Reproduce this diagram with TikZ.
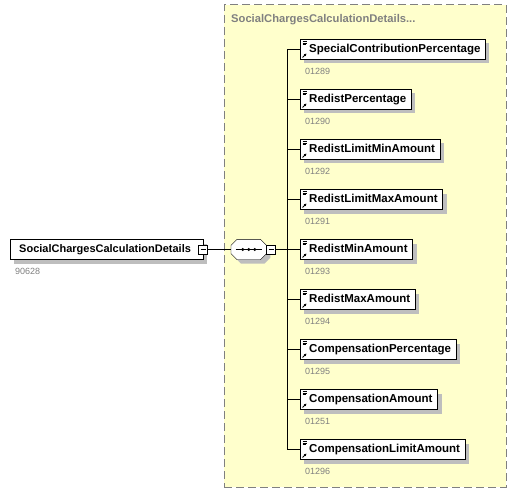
\documentclass[tikz,border=0pt]{standalone}
\usepackage{fontspec}
\setmainfont{Liberation Sans}
\usetikzlibrary{arrows.meta}
\definecolor{groupfill}{RGB}{255,255,204}
\definecolor{groupline}{RGB}{128,128,128}
\definecolor{shadowgray}{RGB}{190,190,190}
\definecolor{numgray}{RGB}{128,128,128}
\tikzstyle{boxshadow}=[preaction={fill=shadowgray,transform canvas={shift={(4pt,-4pt)}}}]
\tikzstyle{element}=[draw=black,fill=white,boxshadow,anchor=west,minimum height=20pt,inner xsep=5pt,inner ysep=0pt,text height=8pt,text depth=2.5pt,font=\fontsize{11.5}{13}\selectfont\bfseries,execute at begin node={\hspace*{4pt}}]
\tikzstyle{refnum}=[anchor=west,inner sep=0pt,text=numgray,font=\fontsize{9}{10}\selectfont]
\tikzstyle{collapse}=[draw=black,fill=white,minimum size=9pt,inner sep=0pt,path picture={\draw ([xshift=-2.5pt]path picture bounding box.center) -- ([xshift=2.5pt]path picture bounding box.center);}]
\newcommand{\refmark}[1]{%
  \draw[line width=0.6pt,shift={(#1.north west)}] (2.5,2) -- (7,2) (2.5,3.7) -- (7,3.7) (2.5,5.4) -- (6,5.4);
  \draw[-{Latex[length=2.5pt,width=2.8pt]},line width=0.9pt,shift={(#1.south west)}] (2.5,-2.2) -- (6.5,-6.2);}

\begin{document}
\begin{tikzpicture}[x=1pt,y=-1pt]
    \useasboundingbox (0,0) rectangle (526,494);

    \node (Group) at (365,246) [draw=groupline,fill=groupfill,line width=1pt,dash pattern=on 8pt off 4pt,minimum width=282pt,minimum height=482pt] {};
    \node (GroupTitle) at (231,20) [anchor=west,inner sep=0pt,text=numgray,font=\fontsize{11.2}{13}\selectfont\bfseries] {SocialChargesCalculationDetails...};

    \node (Root) at (10,249.5) [element,font=\fontsize{11}{13}\selectfont\bfseries,execute at end node={\hspace*{7pt}}] {SocialChargesCalculationDetails};
    \node (RootNum) at (15,271.5) [refnum] {90628};
    \node (RootM) at (Root.east) [collapse] {};

    % sequence compositor
    \node (Seq) at (231,249.5) [anchor=west,minimum width=35pt,minimum height=20pt,inner sep=0pt] {};
    \draw[fill=white,boxshadow] ([xshift=6pt]Seq.north west) -- ([xshift=-6pt]Seq.north east) -- ([yshift=-6pt]Seq.north east) -- ([yshift=6pt]Seq.south east) -- ([xshift=-6pt]Seq.south east) -- ([xshift=6pt]Seq.south west) -- ([yshift=6pt]Seq.south west) -- ([yshift=-6pt]Seq.north west) -- cycle;
    \draw[line width=0.8pt] ([xshift=-13pt]Seq.center) -- ([xshift=13pt]Seq.center);
    \fill ([xshift=-6pt]Seq.center) circle (1.6pt);
    \fill (Seq.center) circle (1.6pt);
    \fill ([xshift=6pt]Seq.center) circle (1.6pt);
    \node (SeqM) at (Seq.east) [collapse,anchor=west] {};
    \coordinate (Bus) at (287,249.5);

    \node (SCP) at (300,49.5) [element] {SpecialContributionPercentage};
    \node (RP) at (300,99.5) [element] {RedistPercentage};
    \node (RLMin) at (300,149.5) [element] {RedistLimitMinAmount};
    \node (RLMax) at (300,199.5) [element] {RedistLimitMaxAmount};
    \node (RMin) at (300,249.5) [element] {RedistMinAmount};
    \node (RMax) at (300,299.5) [element] {RedistMaxAmount};
    \node (CP) at (300,349.5) [element] {CompensationPercentage};
    \node (CA) at (300,399.5) [element] {CompensationAmount};
    \node (CLA) at (300,449.5) [element] {CompensationLimitAmount};

    \node (SCPNum) at (305,71.5) [refnum] {01289};
    \node (RPNum) at (305,121.5) [refnum] {01290};
    \node (RLMinNum) at (305,171.5) [refnum] {01292};
    \node (RLMaxNum) at (305,221.5) [refnum] {01291};
    \node (RMinNum) at (305,271.5) [refnum] {01293};
    \node (RMaxNum) at (305,321.5) [refnum] {01294};
    \node (CPNum) at (305,371.5) [refnum] {01295};
    \node (CANum) at (305,421.5) [refnum] {01251};
    \node (CLANum) at (305,471.5) [refnum] {01296};

    \refmark{SCP}
    \refmark{RP}
    \refmark{RLMin}
    \refmark{RLMax}
    \refmark{RMin}
    \refmark{RMax}
    \refmark{CP}
    \refmark{CA}
    \refmark{CLA}

    \draw (RootM) -- (Seq) [thick];
    \draw (SeqM) -- (RMin) [thick];

    \draw (Bus) |- (SCP) [thick];
    \draw (Bus) |- (RP) [thick];
    \draw (Bus) |- (RLMin) [thick];
    \draw (Bus) |- (RLMax) [thick];
    \draw (Bus) |- (RMax) [thick];
    \draw (Bus) |- (CP) [thick];
    \draw (Bus) |- (CA) [thick];
    \draw (Bus) |- (CLA) [thick];
  \end{tikzpicture}
\end{document}
